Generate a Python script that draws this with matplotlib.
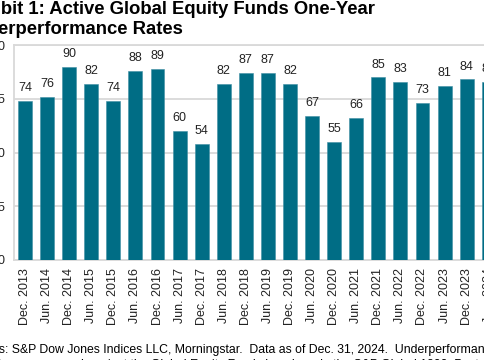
import matplotlib
matplotlib.use("Agg")
import matplotlib.pyplot as plt

periods = ["Dec. 2013", "Jun. 2014", "Dec. 2014", "Jun. 2015", "Dec. 2015", "Jun. 2016",
           "Dec. 2016", "Jun. 2017", "Dec. 2017", "Jun. 2018", "Dec. 2018", "Jun. 2019",
           "Dec. 2019", "Jun. 2020", "Dec. 2020", "Jun. 2021", "Dec. 2021", "Jun. 2022",
           "Dec. 2022", "Jun. 2023", "Dec. 2023", "Jun. 2024"]
rates = [74, 76, 90, 82, 74, 88, 89, 60, 54, 82, 87, 87, 82, 67, 55, 66, 85, 83, 73, 81, 84, 83]
yticks = [0, 25, 50, 75, 100]

title1 = "Exhibit 1: Active Global Equity Funds One-Year"
title2 = "Underperformance Rates"
footer1 = ("Sources: S&P Dow Jones Indices LLC, Morningstar.  Data as of Dec. 31, 2024.  "
           "Underperformance rates are based on")
footer2 = ("fund returns compared against the Global Equity Funds benchmark, the S&P Global 1200. "
           "Past performance")

plt.rcParams["font.family"] = ["Liberation Sans", "DejaVu Sans"]

W, H = 485, 360
fig = plt.figure(figsize=(W / 100, H / 100), dpi=100)

bar_color = "#006d85"
grid_color = "#d9d9d9"

# axes geometry in pixels
left_px, top_px, bottom_px = 14, 45, 260
slot = 22.08
xmin, xmax = -0.5, 21.5
width_px = slot * (xmax - xmin)
ax = fig.add_axes([left_px / W, (H - bottom_px) / H, width_px / W, (bottom_px - top_px) / H])

x = list(range(len(rates)))
ax.bar(x, rates, width=0.63, color=bar_color, edgecolor="#3f8fa3", linewidth=0.4, zorder=3)
for xi, v in zip(x, rates):
    ax.annotate(str(v), (xi, v), xytext=(0, 7), textcoords="offset points",
                ha="center", va="baseline", fontsize=9, color="#222222")

ax.set_xlim(xmin, xmax)
ax.set_ylim(0, 100)
ax.set_yticks(yticks)
ax.set_xticks(x)
ax.set_xticklabels(periods, rotation=90, fontsize=9, color="#222222")
ax.tick_params(axis="x", length=0, pad=5.8)
ax.tick_params(axis="y", length=0, pad=6.5, labelsize=9, labelcolor="#222222")
ax.grid(axis="y", color=grid_color, linewidth=1.3, zorder=0)
for s in ax.spines.values():
    s.set_color(grid_color)
    s.set_linewidth(1.3)

fig.text(-38.5 / W, 1 - 13.5 / H, title1, ha="left", va="baseline", fontsize=13.3,
         fontweight="bold", color="#000000")
fig.text(-38.5 / W, 1 - 33.5 / H, title2, ha="left", va="baseline", fontsize=13.3,
         fontweight="bold", color="#000000")
fig.text(-40 / W, 1 - 353 / H, footer1, ha="left", va="baseline", fontsize=8.85, color="#000000")
fig.text(-40 / W, 1 - 368 / H, footer2, ha="left", va="baseline", fontsize=8.85, color="#000000")

fig.savefig("out.png", dpi=100)
